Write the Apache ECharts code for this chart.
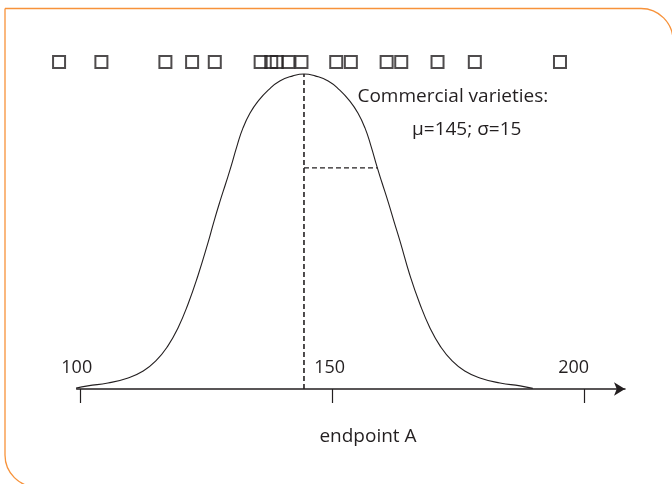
<!DOCTYPE html>
<html>
<head>
<meta charset="utf-8">
<script src="https://cdn.jsdelivr.net/npm/echarts@6/dist/echarts.min.js"></script>
<style>
html,body{margin:0;padding:0;background:#fff;}
#chart{width:672px;height:484px;}
</style>
</head>
<body>
<div id="chart"></div>
<script>
// ---- data ----
const tickValues = [100, 150, 200];
const axisTitle = 'endpoint A';
const noteLines = ['Commercial varieties:', 'μ=145; σ=15'];

// individual varieties (hollow squares along the top)
const varietyX = [95.7, 104.1, 116.8, 122.1, 126.6, 135.7, 137.8, 138.9, 141.2, 143.8,
                  150.7, 153.6, 160.7, 163.6, 170.8, 178.2, 195.1];
const varietyRowY = 103.8;

// distribution curve (relative height, peak = 100)
const curveX = [98.9, 101.4, 105.4, 109.4, 112.4, 114.9, 117.3, 119.3, 121.3, 123.3,
                125.3, 126.4, 127.6, 128.8, 129.8, 131.0, 132.2, 133.6, 135.2, 137.2,
                139.5, 142.1, 144.3,
                146.5, 149.1, 151.4, 153.4, 155.0, 156.4, 157.6, 158.8, 159.8, 161.0,
                162.2, 163.4, 165.3, 167.3, 169.3, 171.3, 173.7, 176.2, 179.2, 183.2,
                187.2, 189.7];
const curveY = [0.2, 1.0, 1.9, 3.5, 5.7, 8.9, 13.7, 19.4, 27.0, 36.2,
                46.7, 53.0, 59.4, 65.4, 70.5, 77.1, 82.9, 87.6, 91.4, 94.9,
                97.8, 99.4, 100.0,
                99.4, 97.8, 94.9, 91.4, 87.6, 82.9, 77.1, 70.5, 65.4, 59.4,
                53.0, 46.7, 36.2, 27.0, 19.4, 13.7, 8.9, 5.7, 3.5, 1.9,
                1.0, 0.2];

// mean and sigma guide lines
const meanX = 144.3;
const peakY = 100;
const sigmaX = 158.9;
const sigmaY = 70.2;

// ---- chart ----
const ink = '#231f20';
const font = '"Open Sans", "Noto Sans", sans-serif';
const chart = echarts.init(document.getElementById('chart'), null, {renderer: 'canvas'});

const curveData = curveX.map((x, i) => [x, curveY[i]]);
const squareData = varietyX.map(x => [x, varietyRowY]);
const labelShift = {100: 8, 150: 6, 200: 22};

chart.setOption({
  animation: false,
  backgroundColor: '#ffffff',
  grid: {left: 76.7, right: 47, top: 48.8, bottom: 95, containLabel: false},
  xAxis: {
    type: 'value',
    min: 99.2,
    max: 208.0,
    splitLine: {show: false},
    axisLine: {show: true, onZero: false, symbol: ['none', 'arrow'], symbolSize: [10, 11],
               lineStyle: {color: ink, width: 1.5}},
    axisTick: {show: true, inside: false, length: 14, customValues: tickValues,
               lineStyle: {color: ink, width: 1.2}},
    axisLabel: {show: true, inside: true, margin: 12, customValues: tickValues,
                color: ink, fontSize: 18, fontFamily: font,
                formatter: v => '{s' + v + '|' + v + '}',
                rich: {
                  s100: {fontSize: 18, fontFamily: font, color: ink, padding: [0, labelShift[100], 0, 0]},
                  s150: {fontSize: 18, fontFamily: font, color: ink, padding: [0, labelShift[150], 0, 0]},
                  s200: {fontSize: 18, fontFamily: font, color: ink, padding: [0, labelShift[200], 0, 0]}
                }}
  },
  yAxis: {
    type: 'value', min: 0, max: 108, show: false
  },
  series: [
    {
      type: 'line', data: curveData, smooth: 0.5, symbol: 'none', clip: false,
      lineStyle: {color: ink, width: 1.1}, z: 3
    },
    {
      type: 'line', data: [[meanX, 0], [meanX, peakY]], symbol: 'none',
      lineStyle: {color: ink, width: 1.6, type: [5, 3]}, z: 2
    },
    {
      type: 'line', data: [[meanX, sigmaY], [sigmaX, sigmaY]], symbol: 'none',
      lineStyle: {color: ink, width: 1.3, type: [5, 3]}, z: 2
    },
    {
      type: 'scatter', data: squareData, symbol: 'rect', symbolSize: 12, clip: false,
      itemStyle: {color: 'rgba(0,0,0,0)', borderColor: ink, borderWidth: 2}, z: 4
    }
  ],
  graphic: [
    {
      type: 'rect', silent: true, z: -1,
      shape: {x: 5, y: 8.5, width: 668, height: 478.5, r: [0, 32, 0, 32]},
      style: {fill: 'none', stroke: '#f7923a', lineWidth: 1.3}
    },
    {
      type: 'text', x: 452.8, y: 97,
      style: {text: noteLines[0], font: '19px ' + font, fill: ink, align: 'center', verticalAlign: 'middle'}
    },
    {
      type: 'text', x: 466.7, y: 130,
      style: {text: noteLines[1], font: '19px ' + font, fill: ink, align: 'center', verticalAlign: 'middle'}
    },
    {
      type: 'text', x: 368, y: 437,
      style: {text: axisTitle, font: '19px ' + font, fill: ink, align: 'center', verticalAlign: 'middle'}
    }
  ]
});
</script>
</body>
</html>
